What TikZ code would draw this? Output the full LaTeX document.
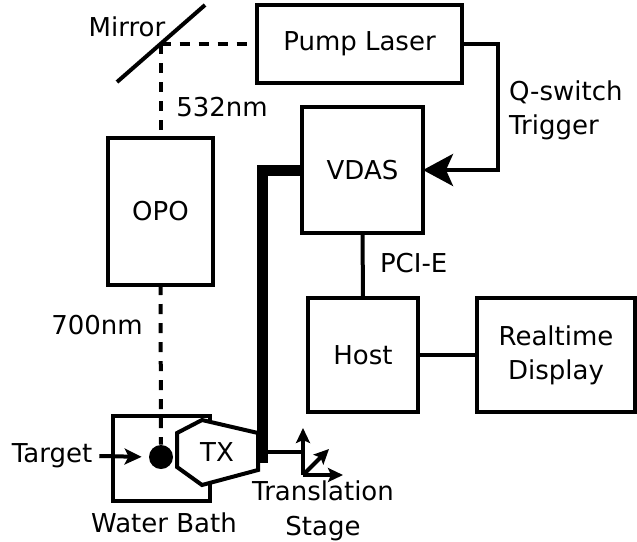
\documentclass[tikz,border=0pt]{standalone}
\usepackage{fontspec}
\setmainfont{DejaVu Sans}
\usetikzlibrary{arrows.meta}

\begin{document}
\begin{tikzpicture}[x=0.5pt,y=-0.5pt,font=\fontsize{13}{17}\selectfont,unit/.style={rectangle,draw,line width=2pt,fill=white,inner sep=0pt,outer sep=0pt,align=center},link/.style={line width=2pt},beam/.style={line width=2pt,dash pattern=on 5pt off 4.5pt},bus/.style={line width=5.5pt,line join=miter},tip/.style={-{Stealth[length=7.5pt,width=7pt,inset=1.5pt]}}]
\useasboundingbox (0,0) rectangle (637,541);
\coordinate (mirA) at (117,82);
\coordinate (mirB) at (205,5);
\coordinate (mirror) at (160.5,44);
\coordinate (busend) at (262.5,463);
\coordinate (txR) at (258,452);
\coordinate (stage) at (303,475);
\node[unit,minimum width=102.5pt,minimum height=39pt] (laser) at (359.5,44) {Pump Laser};
\node[unit,minimum width=60.5pt,minimum height=63pt] (vdas) at (362.5,170) {VDAS};
\node[unit,minimum width=52.5pt,minimum height=73.5pt] (opo) at (160.5,211.5) {OPO};
\node[unit,minimum width=55pt,minimum height=57pt] (host) at (363,355) {Host};
\node[unit,minimum width=79pt,minimum height=57pt] (display) at (556,355) {Realtime\\Display};
% mirror and beams
\draw[link] (mirA) -- (mirB);
\draw[beam] (mirror) -- (laser.west);
\draw[beam] (mirror) -- (opo.north);
\node (mirlabel) at (127,27) {Mirror};
\node (green) at (222,107) {532nm};
\node (red) at (97,325) {700nm};
% water bath
\draw[link] (113,416) rectangle (210,501);
\node (bath) at (164,523) {Water Bath};
\node[circle,fill,inner sep=0pt,minimum size=12pt] (dot) at (161,457) {};
\draw[beam] (opo.south) -- (dot.north);
\node (target) at (52,456) {Target};
\draw[link,-{Stealth[length=8.5pt,width=8pt,inset=2pt]},shorten >=3.5pt] (target.east) -- (dot.west);
\draw[link,fill=white,line join=miter] (202,420) -- (258,433) -- (258,470) -- (202,485) -- (177,467) -- (177,433) -- cycle;
\node (tx) at (217,452) {TX};
% signals
\draw[link,-{Stealth[length=15pt,width=16pt,inset=3.5pt]}] (laser.east) -- ++(36,0) |- (vdas.east);
\node[align=left,anchor=west] (trigger) at (502,110) {Q-switch\\Trigger};
\draw[bus] (vdas.west) -| (busend);
\draw[link] (vdas.south) -- (host.north);
\node[anchor=west] (pcie) at (373,263) {PCI-E};
\draw[link] (host.east) -- (display.west);
% translation stage
\draw[link] (txR) -- (txR -| stage);
\draw[link,tip] (stage) -- ++(0,-47);
\draw[link,tip] (stage) -- ++(26,-26);
\draw[link,tip] (stage) -- ++(40,0);
\node[align=center,font=\fontsize{13}{17.5}\selectfont] (stagelabel) at (323,511) {Translation\\Stage};
\end{tikzpicture}
\end{document}
